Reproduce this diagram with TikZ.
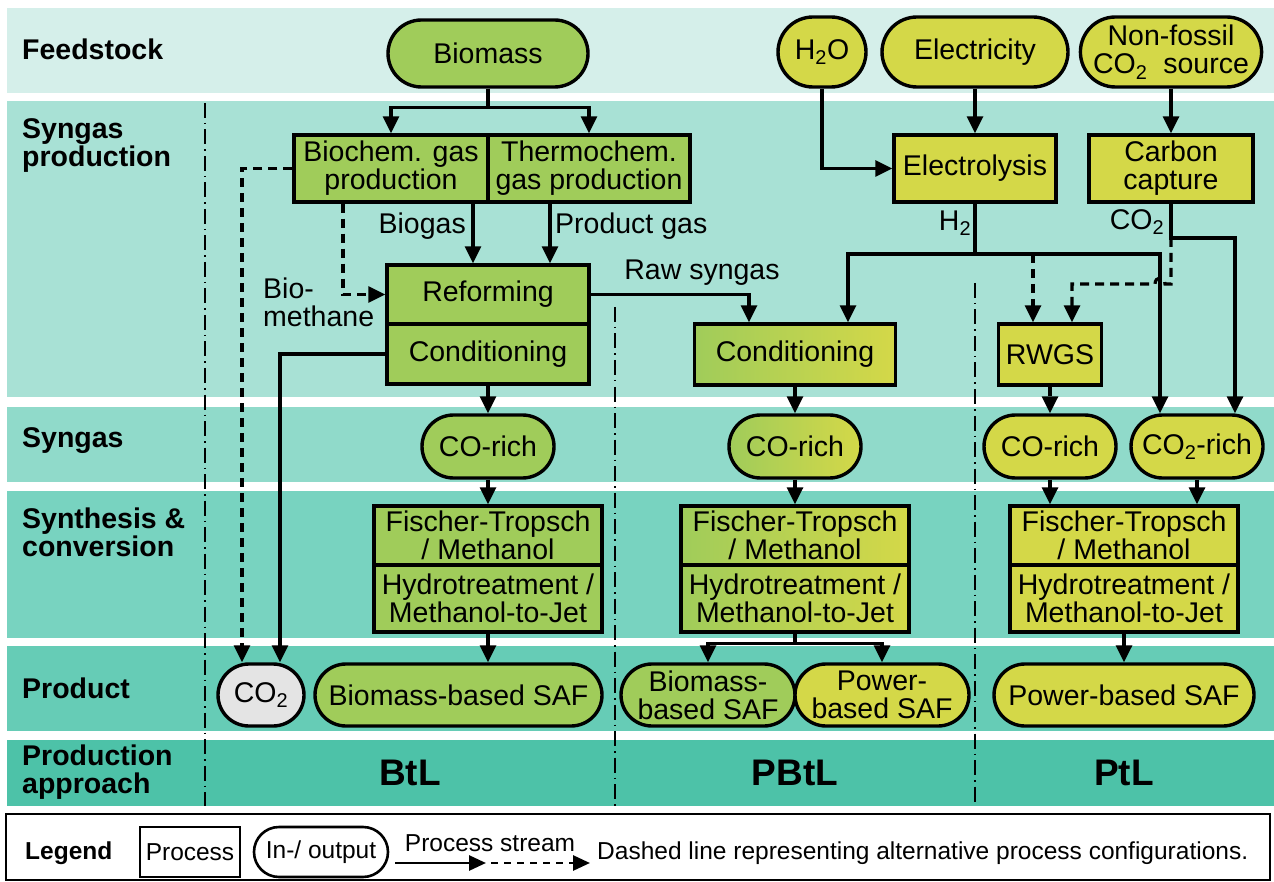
\documentclass[tikz,border=0pt]{standalone}
\usepackage{fontspec}
\setmainfont{Liberation Sans}
\usetikzlibrary{arrows.meta,shapes.misc}
\definecolor{grn}{RGB}{160,204,90}
\definecolor{ylw}{RGB}{212,216,72}
\definecolor{gry}{RGB}{228,228,228}
\definecolor{bandA}{RGB}{213,239,234}
\definecolor{bandB}{RGB}{168,225,213}
\definecolor{bandC}{RGB}{144,218,202}
\definecolor{bandD}{RGB}{120,211,192}
\definecolor{bandE}{RGB}{102,204,182}
\definecolor{bandF}{RGB}{77,194,168}
\newcommand{\dgfont}{\fontsize{28.5}{28}\selectfont}
\newcommand{\lgfont}{\fontsize{24.5}{26}\selectfont}
\newcommand{\apfont}{\fontsize{37}{40}\selectfont\bfseries}
\begin{document}
\begin{tikzpicture}[x=1pt,y=-1pt,
  every node/.style={font=\dgfont, inner sep=0pt, align=center, text=black},
  proc/.style={draw, line width=3.4pt, rectangle},
  io/.style={draw, line width=3.4pt, rounded rectangle},
  gfill/.style={fill=grn},
  yfill/.style={fill=ylw},
  mixfill/.style={left color=grn, right color=ylw},
  rowlab/.style={anchor=west, align=left, font=\dgfont\bfseries},
  aplab/.style={font=\apfont},
  flow/.style={line width=3.2pt, -{Triangle[length=17pt,width=16pt]}},
  altflow/.style={flow, dash pattern=on 9pt off 6pt},
  divider/.style={line width=1.5pt, dash pattern=on 15pt off 5pt on 1.5pt off 5pt},
  lgflow/.style={line width=2.8pt, -{Triangle[length=17pt,width=15pt]}},
]
\useasboundingbox (0,0) rectangle (1274,882);
\fill[white] (0,0) rectangle (1274,882);

% horizontal bands
\fill[bandA] (7,8)   rectangle (1274,93);
\fill[bandB] (7,101) rectangle (1274,397);
\fill[bandC] (7,407) rectangle (1274,482);
\fill[bandD] (7,491) rectangle (1274,638);
\fill[bandE] (7,646) rectangle (1274,731);
\fill[bandF] (7,740) rectangle (1274,806);

% row labels
\node[rowlab] (rFeed) at (22,49) {Feedstock};
\node[rowlab] (rSynP) at (22,146) {Syngas\\production};
\node[rowlab] (rSyn)  at (22,441) {Syngas};
\node[rowlab] (rConv) at (22,532) {Synthesis \&\\conversion};
\node[rowlab] (rProd) at (22,688) {Product};
\node[rowlab] (rAppr) at (22,772) {Production\\approach};

% column dividers
\draw[divider] (205,103) -- (205,806);
\draw[divider] (615,307) -- (615,806);
\draw[divider] (975,283) -- (975,806);

% approach labels
\node[aplab] (aBtL)  at (410,773) {BtL};
\node[aplab] (aPBtL) at (795,773) {PBtL};
\node[aplab] (aPtL)  at (1124,773) {PtL};

% feedstock
\node[io,gfill,minimum width=200,minimum height=67] (biomass) at (488,53.5) {Biomass};
\node[io,yfill,minimum width=88,minimum height=70] (h2o) at (822,52) {H\textsubscript{2}O};
\node[io,yfill,minimum width=186,minimum height=70] (elec) at (975,52) {Electricity};
\node[io,yfill,minimum width=180,minimum height=70] (nf) at (1171,52) {Non-fossil\\CO\textsubscript{2}~ source};

% syngas production
\node[proc,gfill,minimum width=194,minimum height=67] (biochem) at (391,168.5) {Biochem. gas\\production};
\node[proc,gfill,minimum width=202,minimum height=67] (thermo) at (589,168.5) {Thermochem.\\gas production};
\node[proc,yfill,minimum width=162,minimum height=67] (elyz) at (975,168.5) {Electrolysis};
\node[proc,yfill,minimum width=164,minimum height=67] (cc) at (1171,168.5) {Carbon\\capture};
\node[proc,gfill,minimum width=202,minimum height=59] (reform) at (488,294.5) {Reforming};
\node[proc,gfill,minimum width=202,minimum height=60] (cond1) at (488,354) {Conditioning};
\node[proc,mixfill,minimum width=201,minimum height=61] (cond2) at (795,354.5) {Conditioning};
\node[proc,yfill,minimum width=103,minimum height=61] (rwgs) at (1050,354.5) {RWGS};

% syngas
\node[io,gfill,minimum width=132,minimum height=63] (corich1) at (488,446.5) {CO-rich};
\node[io,mixfill,minimum width=132,minimum height=63] (corich2) at (795,446.5) {CO-rich};
\node[io,yfill,minimum width=132,minimum height=63] (corich3) at (1050,446.5) {CO-rich};
\node[io,yfill,minimum width=132,minimum height=63] (co2r) at (1197,446.5) {CO\textsubscript{2}-rich};

% synthesis & conversion
\node[proc,gfill,minimum width=228,minimum height=59] (ft1) at (488,535.5) {Fischer-Tropsch\\/ Methanol};
\node[proc,gfill,minimum width=228,minimum height=67] (ht1) at (488,598.5) {Hydrotreatment /\\Methanol-to-Jet};
\node[proc,mixfill,minimum width=228,minimum height=59] (ft2) at (795,535.5) {Fischer-Tropsch\\/ Methanol};
\node[proc,mixfill,minimum width=228,minimum height=67] (ht2) at (795,598.5) {Hydrotreatment /\\Methanol-to-Jet};
\node[proc,yfill,minimum width=228,minimum height=59] (ft3) at (1124,535.5) {Fischer-Tropsch\\/ Methanol};
\node[proc,yfill,minimum width=228,minimum height=67] (ht3) at (1124,598.5) {Hydrotreatment /\\Methanol-to-Jet};

% products
\node[io,fill=gry,minimum width=86,minimum height=62] (co2p) at (261,695) {CO\textsubscript{2}};
\node[io,gfill,minimum width=287,minimum height=62] (saf1) at (458.5,695) {Biomass-based SAF};
\node[io,gfill,minimum width=174,minimum height=62] (saf2a) at (708,695) {Biomass-\\based SAF};
\node[io,yfill,minimum width=174,minimum height=62] (saf2b) at (882,695) {Power-\\based SAF};
\node[io,yfill,minimum width=260,minimum height=62] (saf3) at (1124,695) {Power-based SAF};

% helper coordinates for stream routing
\coordinate (xa) at (473,0);
\coordinate (xb) at (550,0);
\coordinate (xc) at (343,0);
\coordinate (xd) at (242,0);
\coordinate (xe) at (280,0);
\coordinate (xf) at (749,0);
\coordinate (hl) at (848,254);
\coordinate (hr) at (1160,254);
\coordinate (xi) at (1033,0);
\coordinate (cj) at (1171,238);
\coordinate (xj) at (1235,0);
\coordinate (ck) at (1171,284);
\coordinate (hopR) at (1165,284);
\coordinate (hopL) at (1155,284);
\coordinate (kl) at (1072,284);

% biomass route
\draw[flow] (biomass.south) -- ++(0,19) -| (biochem.north);
\draw[flow] (biomass.south) -- ++(0,19) -| (thermo.north);
\draw[flow] (biochem.south -| xa) -- (reform.north -| xa);
\draw[flow] (thermo.south -| xb) -- (reform.north -| xb);
\draw[altflow] (biochem.south -| xc) |- (reform.west);
\draw[altflow] (biochem.west) -| (co2p.north -| xd);
\draw[flow] (cond1.west) -| (co2p.north -| xe);
\draw[flow] (reform.east) -| (cond2.north -| xf);
\draw[flow] (cond1.south) -- (corich1.north);
\draw[flow] (corich1.south) -- (ft1.north);
\draw[flow] (ht1.south) -- (saf1.north -| ht1.south);

% power route
\draw[flow] (h2o.south) |- (elyz.west);
\draw[flow] (elec.south) -- (elyz.north);
\draw[flow] (nf.south) -- (cc.north);
\draw[flow] (elyz.south) -- (elyz.south |- hl) -| (cond2.north -| hl);
\draw[flow] (elyz.south |- hl) -| (co2r.north -| hr);
\draw[altflow] (xi |- hl) -- (rwgs.north -| xi);
\draw[flow] (cc.south) |- (xj |- cj) -- (co2r.north -| xj);
\draw[altflow] (cj) -- (ck) -- (hopR) .. controls (1165,276) and (1155,276) .. (hopL) -- (kl) -- (rwgs.north -| kl);
\draw[altflow] (rwgs.south) -- (corich3.north);
\draw[altflow] (corich3.south) -- (ft3.north -| corich3.south);
\draw[flow] (co2r.south) -- (ft3.north -| co2r.south);
\draw[flow] (ht3.south) -- (saf3.north);

% hybrid route
\draw[flow] (cond2.south) -- (corich2.north);
\draw[flow] (corich2.south) -- (ft2.north);
\draw[flow] (ht2.south) -- ++(0,10) -| (saf2a.north);
\draw[flow] (ht2.south) -- ++(0,10) -| (saf2b.north);

% stream labels
\node[anchor=east] (lbiogas) at (466,226) {Biogas};
\node[anchor=west] (lpgas) at (555,226) {Product gas};
\node[anchor=west,align=left] (lbm) at (263,302) {Bio-\\methane};
\node (lraw) at (702,273) {Raw syngas};
\node (lh2) at (955,223) {H\textsubscript{2}};
\node (lco2) at (1137,222) {CO\textsubscript{2}};

% legend
\draw[line width=1.6pt] (6,814) rectangle (1270,880);
\node[anchor=west,font=\lgfont\bfseries] (lgT) at (25,853) {Legend};
\node[draw,line width=2.6pt,minimum width=100,minimum height=50,font=\lgfont] (lgP) at (190,852) {Process};
\node[draw,line width=2.6pt,rounded rectangle,minimum width=134,minimum height=50,font=\lgfont] (lgIO) at (321,852) {In-/ output};
\coordinate (ls1) at (395,863);
\coordinate (ls2) at (486,863);
\coordinate (ld1) at (491,863);
\coordinate (ld2) at (590,863);
\draw[lgflow] (ls1) -- (ls2);
\draw[lgflow,dash pattern=on 7pt off 6pt] (ld1) -- (ld2);
\node[font=\lgfont] (lgS) at (490,843) {Process stream};
\node[anchor=west,font=\lgfont] (lgD) at (597,853) {Dashed line representing alternative process configurations.};
\end{tikzpicture}
\end{document}
